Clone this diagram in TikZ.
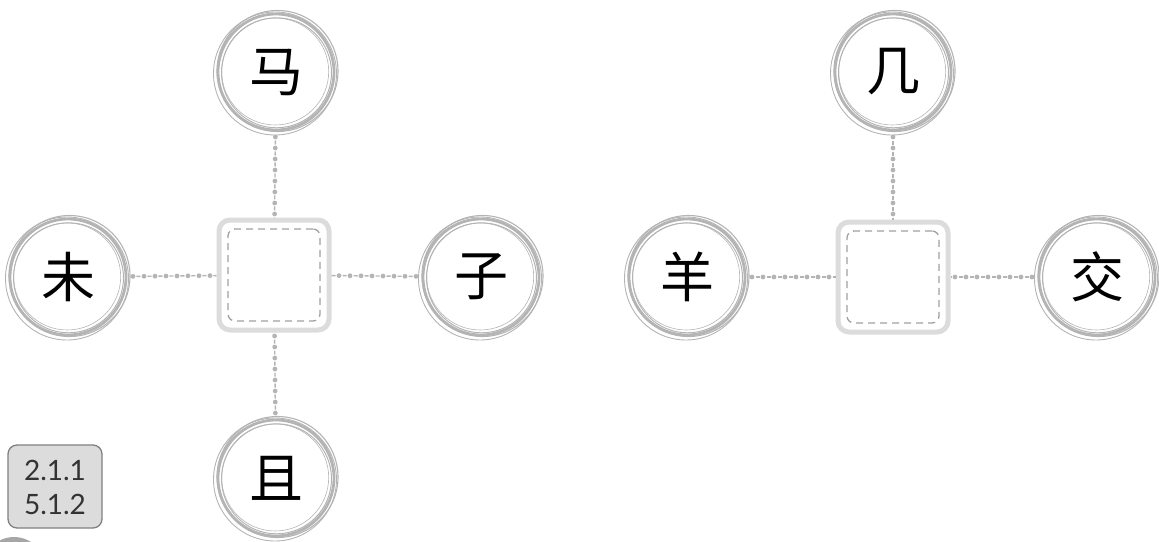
\documentclass[tikz,border=0pt]{standalone}
\usepackage{fontspec}
\setsansfont{Lato}
\newfontfamily\cjk{Noto Sans CJK SC}
\definecolor{ringgray}{HTML}{B4B4B4}
\definecolor{boxgray}{HTML}{DCDCDC}
\definecolor{dashgray}{HTML}{A0A0A0}
\tikzstyle{char}=[circle, minimum size=124pt, inner sep=0pt, outer sep=3pt, font=\cjk\fontsize{54}{54}\selectfont]
\tikzstyle{ring}=[draw=ringgray]
\tikzstyle{blank}=[draw=boxgray, line width=5pt, rounded corners=11pt, minimum size=110pt, inner sep=0pt, outer sep=2.5pt]
\tikzstyle{blank inner}=[draw=dashgray, line width=1.3pt, dash pattern=on 7pt off 5pt, rounded corners=7pt, minimum size=92pt]
\tikzstyle{link}=[draw=ringgray, line width=4.8pt, line cap=round, dash pattern=on 0pt off 11pt]
\tikzstyle{link thin}=[draw=ringgray, line width=1.4pt, dash pattern=on 4pt off 7pt, dash phase=-3.5pt]
\newcommand{\rings}[1]{%
  \draw[ring, line width=2.8pt] (#1.center) circle (58pt);
  \draw[ring, line width=1.1pt] ([shift={(1.5,-1)}]#1.center) circle (60.5pt);
  \draw[ring, line width=.9pt] ([shift={(-1,1.5)}]#1.center) circle (61.5pt);
  \draw[ring, line width=1pt] ([shift={(.5,.8)}]#1.center) circle (55pt);
  \draw[ring, line width=.6pt] ([shift={(-.8,-.5)}]#1.center) circle (53.5pt);
}

\begin{document}
\begin{tikzpicture}[x=1pt,y=-1pt]
    \useasboundingbox (0,0) rectangle (1159,541);

    % Blanks
    \draw (274,275) node[blank] (ba) {};
    \draw (274,275) node[blank inner] (bai) {};
    \draw (893,277) node[blank] (bb) {};
    \draw (893,277) node[blank inner] (bbi) {};

    % Characters
    \draw (276,72) node[char] (ma) {马};
    \draw (68,277) node[char] (wei) {未};
    \draw (481,277) node[char] (zi) {子};
    \draw (276,478) node[char] (qie) {且};
    \draw (893,72) node[char] (ji) {几};
    \draw (687,277) node[char] (yang) {羊};
    \draw (1097,277) node[char] (jiao) {交};
    \foreach \c in {ma,wei,zi,qie,ji,yang,jiao} {\rings{\c}}

    % Links
    \foreach \a/\b in {ma/ba,wei/ba,zi/ba,qie/ba,ji/bb,yang/bb,jiao/bb} {
        \draw[link thin] (\a) -- (\b);
        \draw[link] (\a) -- (\b);
    }

    % Code
    \draw[fill=boxgray, draw=gray, line width=1.3pt, rounded corners=9pt] (8,445) rectangle (102,528);
    \draw (55,487) node[font=\sffamily\fontsize{28}{34}\selectfont, text=black!80, align=center] (code) {2.1.1\\5.1.2};
    \fill[gray!70] (14,568) circle (31pt);
\end{tikzpicture}
\end{document}
